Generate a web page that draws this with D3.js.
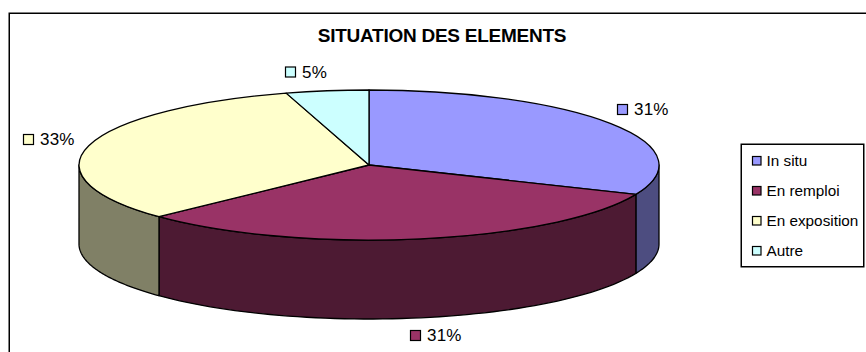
<!DOCTYPE html>
<html>
<head>
<meta charset="utf-8">
<script src="https://cdn.jsdelivr.net/npm/d3@7"></script>
<style>
body { margin: 0; background: #fff; overflow: hidden; }
text { font-family: "Liberation Sans", Arial, sans-serif; fill: #000; }
</style>
</head>
<body>
<svg id="chart" width="866" height="352" style="display:block"></svg>
<script>
var categories = ["In situ", "En remploi", "En exposition", "Autre"];
// labels round to 31/31/33/5, slices are drawn a bit more precisely
var values = [31.4, 31.49, 32.5, 4.61];
var topColors = ["#9999FF", "#993366", "#FFFFCC", "#CCFFFF"];
var sideColors = ["#4D4D80", "#4D1A33", "#808066", "#668080"];

var cx = 369, cy = 165, rx = 290, ry = 75, depth = 79;

var svg = d3.select("#chart");

//outer frame, runs past the right and bottom of the picture
svg.append("rect").attr("x", 9.25).attr("y", 13.25).attr("width", 900).attr("height", 400)
    .attr("fill", "#fff").attr("stroke", "#000").attr("stroke-width", 1.5);

svg.append("text").attr("x", 442).attr("y", 41.5).attr("text-anchor", "middle")
    .style("font-size", "19px").style("font-weight", "bold").style("letter-spacing", "-0.25px")
    .text("SITUATION DES ELEMENTS");

var slices = d3.pie().sort(null).value(function(d){ return d; })(values);

//x,y on the ellipse for a pie angle (0 = top, clockwise)
function px(a){ return cx + rx * Math.sin(a); }
function py(a){ return cy - ry * Math.cos(a); }

//walls, only the front half of the disc is visible
function wallPoints(a0, a1){
    var n = 60, top = [], bottom = [];
    d3.range(n + 1).forEach(function(i){
        var a = a0 + (a1 - a0) * i / n;
        top.push([px(a), py(a)]);
        bottom.unshift([px(a), py(a) + depth]);
    });
    return top.concat(bottom);
}

slices.forEach(function(s, i){
    var a0 = Math.max(s.startAngle, Math.PI / 2), a1 = Math.min(s.endAngle, 3 * Math.PI / 2);
    if (a1 <= a0) return;
    svg.append("path")
        .attr("d", d3.line()(wallPoints(a0, a1)) + "Z")
        .attr("fill", sideColors[i]).attr("stroke", "#000").attr("stroke-width", 1.3)
        .attr("stroke-linejoin", "round");
});

//top face
var arc = d3.arc().innerRadius(0).outerRadius(rx);
svg.append("g").attr("transform", "translate(" + cx + "," + cy + ") scale(1," + (ry / rx) + ")")
    .selectAll("path").data(slices).enter().append("path")
    .attr("d", arc)
    .attr("fill", function(d, i){ return topColors[i]; })
    .attr("stroke", "#000").attr("stroke-width", 1.3)
    .attr("stroke-linejoin", "round")
    .attr("vector-effect", "non-scaling-stroke");

//data labels, placed by hand around the pie
var labelAnchors = [[617, 110], [410, 336], [23, 140], [285, 72.5]];
slices.forEach(function(s, i){
    var p = labelAnchors[i];
    svg.append("rect").attr("x", p[0] + 0.5).attr("y", p[1] - 5.5).attr("width", 10).attr("height", 10)
        .attr("fill", topColors[i]).attr("stroke", "#000").attr("stroke-width", 1.2);
    svg.append("text").attr("x", p[0] + 17).attr("y", p[1] + 5)
        .style("font-size", "17px").style("letter-spacing", "0.2px")
        .text(Math.round(s.value) + "%");
});

//legend
svg.append("rect").attr("x", 741.25).attr("y", 144.25).attr("width", 122.5).attr("height", 122.5)
    .attr("fill", "#fff").attr("stroke", "#000").attr("stroke-width", 1.5);
var legendY = d3.scalePoint().domain(categories).range([160.5, 250.5]);
categories.forEach(function(c, i){
    svg.append("rect").attr("x", 752.5).attr("y", legendY(c) - 4).attr("width", 8.5).attr("height", 8.5)
        .attr("fill", topColors[i]).attr("stroke", "#000").attr("stroke-width", 1.2);
    svg.append("text").attr("x", 766.5).attr("y", legendY(c) + 5.5)
        .style("font-size", "15.3px")
        .text(c);
});
</script>
</body>
</html>
